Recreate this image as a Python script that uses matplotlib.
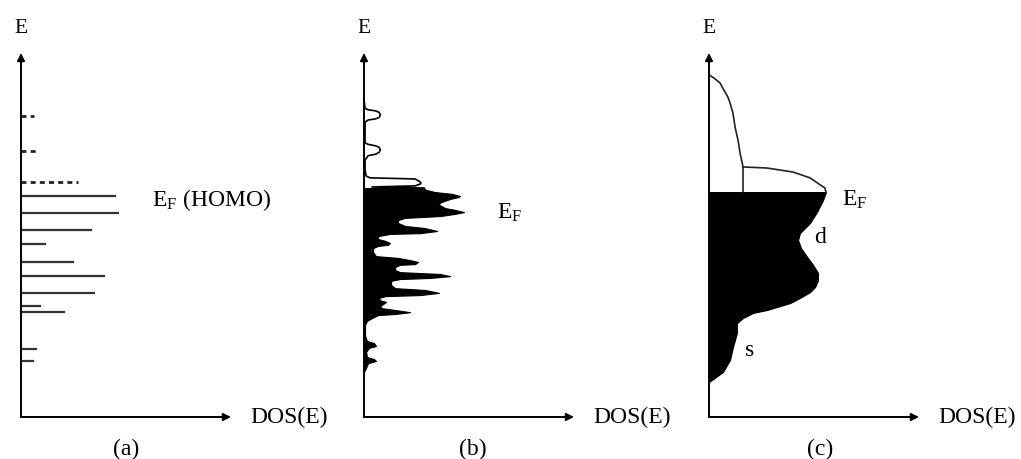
import matplotlib.pyplot as plt

plt.rcParams['font.family'] = 'Liberation Serif'
plt.rcParams['mathtext.fontset'] = 'custom'
plt.rcParams['mathtext.rm'] = 'Liberation Serif'

# (a) discrete molecular levels: energy, DOS length, empty (dashed) or filled
levels_E = [8.27, 7.31, 6.46, 6.07, 5.60, 5.14, 4.75, 4.26, 3.87, 3.41, 3.05, 2.88, 1.87, 1.54]
levels_dos = [0.62, 0.71, 2.71, 4.48, 4.62, 3.33, 1.14, 2.48, 3.95, 3.48, 0.90, 2.05, 0.71, 0.57]
levels_empty = [True, True, True] + [False] * 11

# (b) cluster DOS, occupied part (filled) and empty part (outline)
b_occ_E = [1.24, 1.35, 1.48, 1.54, 1.59, 1.65, 1.79, 1.90, 1.95, 2.03, 2.09, 2.23, 2.53,
           2.64, 2.72, 2.80, 2.83, 2.88, 2.94, 2.99, 3.05, 3.10, 3.16, 3.21, 3.27, 3.32,
           3.35, 3.41, 3.49, 3.54, 3.63, 3.74, 3.79, 3.82, 3.87, 3.93, 3.98, 4.04, 4.12,
           4.18, 4.20, 4.26, 4.31, 4.37, 4.42, 4.53, 4.64, 4.70, 4.73, 4.78, 4.84, 4.89,
           4.97, 5.03, 5.05, 5.11, 5.19, 5.25, 5.33, 5.41, 5.47, 5.52, 5.58, 5.63, 5.69,
           5.74, 5.82, 5.85, 5.91, 5.99, 6.04, 6.07, 6.13, 6.18, 6.24, 6.29]
b_occ_dos = [0.00, 0.10, 0.19, 0.57, 0.48, 0.14, 0.10, 0.24, 0.57, 0.48, 0.14, 0.05, 0.05,
             0.14, 0.38, 0.67, 1.48, 2.19, 1.48, 0.86, 0.76, 0.90, 1.05, 0.76, 0.71, 1.00,
             2.67, 3.57, 2.90, 1.48, 1.29, 1.29, 1.71, 3.14, 4.10, 3.62, 1.71, 1.48, 1.48,
             1.71, 2.43, 2.57, 2.19, 1.62, 0.57, 0.43, 0.43, 0.67, 1.14, 1.24, 1.00, 0.67,
             0.67, 1.24, 2.67, 3.48, 2.90, 1.95, 1.62, 1.62, 1.95, 3.62, 4.33, 4.76, 4.33,
             3.86, 3.62, 3.52, 3.71, 4.10, 4.48, 4.57, 4.19, 3.38, 2.95, 2.86]
b_emp_E = [6.29, 6.32, 6.35, 6.40, 6.43, 6.47, 6.54, 6.57, 6.62, 6.79, 7.06, 7.18, 7.22,
           7.27, 7.34, 7.41, 7.45, 7.49, 7.53, 8.10, 8.16, 8.19, 8.23, 8.30, 8.37, 8.41,
           8.44, 8.48, 8.71]
b_emp_dos = [2.86, 0.38, 2.43, 2.68, 2.71, 2.65, 2.43, 0.29, 0.10, 0.05, 0.05, 0.20, 0.55,
             0.72, 0.78, 0.72, 0.55, 0.20, 0.05, 0.05, 0.20, 0.55, 0.72, 0.78, 0.72, 0.55,
             0.20, 0.05, 0.00]

# (c) bulk metal DOS (s and d bands)
c_occ_E = [0.96, 1.24, 1.57, 1.92, 2.31, 2.58, 2.72, 2.86, 2.94, 3.13, 3.27, 3.43, 3.57,
           3.76, 3.96, 4.18, 4.40, 4.64, 4.86, 5.05, 5.33, 5.63, 5.96, 6.18]
c_occ_dos = [0.00, 0.67, 1.00, 1.14, 1.33, 1.33, 1.62, 2.10, 2.76, 3.86, 4.33, 4.81, 5.05,
             5.19, 5.19, 4.95, 4.67, 4.38, 4.24, 4.33, 4.81, 5.14, 5.43, 5.57]
c_emp_E = [6.18, 6.29, 6.57, 6.73, 6.84, 6.87, 7.25, 7.61, 7.97, 8.35, 8.63, 8.79, 8.98,
           9.18, 9.31, 9.40]
c_emp_dos = [5.57, 5.52, 4.81, 4.00, 2.76, 1.62, 1.48, 1.38, 1.24, 1.14, 1.00, 0.90, 0.71,
             0.52, 0.24, 0.00]
c_s_edge = 1.62
c_EF = 6.18

fig = plt.figure(figsize=(10.21, 4.59), dpi=100)


def make_panel(left_px, tag, tag_x):
    ax = fig.add_axes([left_px / 1021, 42 / 459, 210 / 1021, 364 / 459])
    ax.set_xlim(0, 10)
    ax.set_ylim(0, 10)
    ax.axis('off')
    arrow = dict(arrowstyle='-|>', lw=1.4, color='k', mutation_scale=11,
                 shrinkA=0, shrinkB=0)
    ax.annotate('', xy=(1, 0), xytext=(0, 0), xycoords='axes fraction',
                textcoords='axes fraction', arrowprops=arrow)
    ax.annotate('', xy=(0, 1), xytext=(0, 0), xycoords='axes fraction',
                textcoords='axes fraction', arrowprops=arrow)
    ax.text(0, 1.067, 'E', transform=ax.transAxes, ha='center', va='center', fontsize=15.5)
    ax.text(1.09, 0.0, 'DOS(E)', transform=ax.transAxes, ha='left', va='center', fontsize=17)
    ax.text(tag_x, -0.09, tag, transform=ax.transAxes, ha='center', va='center', fontsize=17)
    return ax


# panel (a)
ax = make_panel(21, '(a)', 0.50)
for E, d, empty in zip(levels_E, levels_dos, levels_empty):
    if empty:
        ax.plot([0, d], [E, E], color='#222222', lw=2, ls=(0, (1.8, 1.5)))
    else:
        ax.plot([0, d], [E, E], color='#333333', lw=1.6)
ax.text(6.24, 5.96, r'$\mathrm{E_F}$ (HOMO)', ha='left', va='center', fontsize=17)

# panel (b)
ax = make_panel(364, '(b)', 0.52)
ax.fill_betweenx(b_occ_E, 0, b_occ_dos, color='black', lw=0.8)
ax.plot(b_emp_dos, b_emp_E, color='black', lw=1.2)
ax.text(6.33, 5.60, r'$\mathrm{E_F}$', ha='left', va='center', fontsize=17)

# panel (c)
ax = make_panel(709, '(c)', 0.53)
ax.fill_betweenx(c_occ_E, 0, c_occ_dos, color='black', lw=0.8)
ax.plot(c_emp_dos, c_emp_E, color='#222222', lw=1.2)
ax.plot([c_s_edge, c_s_edge], [c_EF, c_emp_E[c_emp_dos.index(c_s_edge)]], color='#222222', lw=1.2)
ax.text(6.33, 5.96, r'$\mathrm{E_F}$', ha='left', va='center', fontsize=17)
ax.text(5.29, 4.92, 'd', ha='center', va='center', fontsize=17)
ax.text(1.95, 1.84, 's', ha='center', va='center', fontsize=17)

fig.savefig('out.png', dpi=100)
